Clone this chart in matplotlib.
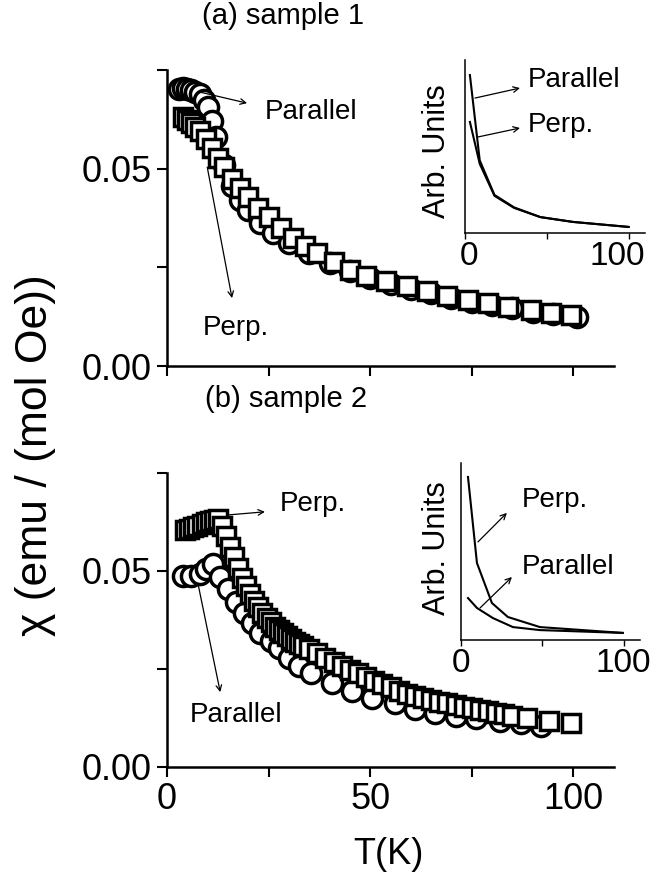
import matplotlib
matplotlib.use("Agg")
import matplotlib.pyplot as plt
import matplotlib.transforms as mtransforms
from matplotlib.ticker import FixedLocator

plt.rcParams['font.family'] = ['Liberation Sans', 'DejaVu Sans']

# ---------------- data: sample 1 ----------------
s1_par_T = [3, 4, 5, 6, 7, 8, 9, 10, 11, 12, 14, 16, 18, 20, 23, 26, 30, 35, 40, 45,
            50, 55, 60, 65, 70, 75, 80, 85, 90, 95, 101]
s1_par_chi = [0.0703, 0.0704, 0.0703, 0.0700, 0.0695, 0.0688, 0.0675, 0.0655, 0.0620, 0.0580,
              0.0510, 0.0455, 0.0420, 0.0395, 0.0362, 0.0338, 0.0312, 0.0286, 0.0262, 0.0240,
              0.0222, 0.0209, 0.0196, 0.0184, 0.0173, 0.0163, 0.0154, 0.0146, 0.0138, 0.0131, 0.0124]
s1_perp_T = [4, 5, 6, 7, 8, 9.5, 11, 12.5, 14, 16, 18, 20, 22.5, 25, 28, 31, 34, 37, 41, 45,
             49, 54, 59, 64, 69, 74, 79, 84, 89.5, 94.5, 99.5]
s1_perp_chi = [0.0630, 0.0624, 0.0616, 0.0606, 0.0595, 0.0575, 0.0552, 0.0527, 0.0503, 0.0475,
               0.0450, 0.0428, 0.0400, 0.0377, 0.0350, 0.0324, 0.0303, 0.0287, 0.0263, 0.0244,
               0.0228, 0.0215, 0.0202, 0.0190, 0.0178, 0.0168, 0.0159, 0.0150, 0.0142, 0.0135, 0.0129]

# ---------------- data: sample 2 ----------------
s2_par_T = [4, 6, 8, 9.7, 11.4, 13, 15, 17, 19, 21, 23, 25.5, 27.5, 30, 32.5, 35.5, 40.5,
            45.5, 50.5, 56, 61, 66, 71, 76, 82, 87, 92]
s2_par_chi = [0.0488, 0.0488, 0.0492, 0.0505, 0.0518, 0.0484, 0.0454, 0.0420, 0.0394, 0.0368,
              0.0343, 0.0321, 0.0304, 0.0278, 0.0257, 0.0240, 0.0215, 0.0195, 0.0177, 0.0162,
              0.0149, 0.0138, 0.0131, 0.0124, 0.0118, 0.0111, 0.0105]
s2_perp_T = [4.5, 5.5, 6.5, 7.5, 8.5, 9.5, 10.5, 11.5, 12.5, 13.5, 14.5, 15.5, 16.5, 17.5,
             18.5, 19.5, 20.5, 21.5, 22.5, 23.5, 24.5, 25.5, 26.5, 27.5, 28.5, 29.5, 30.5,
             31.5, 32.5, 33.5, 35, 37, 39, 41, 43, 45, 47, 49, 51, 53, 55, 57, 59, 61, 63,
             65, 67, 69, 71, 73, 75, 77, 79, 81, 83, 85, 88.5, 94, 99.5]
s2_perp_chi = [0.0605, 0.0608, 0.0612, 0.0616, 0.0620, 0.0624, 0.0628, 0.0631, 0.0632, 0.0615,
               0.0590, 0.0562, 0.0535, 0.0508, 0.0482, 0.0462, 0.0442, 0.0424, 0.0408, 0.0394,
               0.0381, 0.0369, 0.0358, 0.0350, 0.0341, 0.0334, 0.0327, 0.0320, 0.0314, 0.0308,
               0.0300, 0.0290, 0.0279, 0.0268, 0.0258, 0.0248, 0.0239, 0.0229, 0.0220, 0.0211,
               0.0203, 0.0194, 0.0187, 0.0181, 0.0176, 0.0171, 0.0166, 0.0162, 0.0158, 0.0154,
               0.0150, 0.0146, 0.0142, 0.0138, 0.0134, 0.0130, 0.0124, 0.0118, 0.0112]

# ---------------- inset data (arbitrary units) ----------------
in1_T = [3, 9, 18, 30, 46, 66, 100]
in1_par = [0.913, 0.420, 0.220, 0.148, 0.092, 0.064, 0.035]
in1_perp = [0.642, 0.400, 0.215, 0.145, 0.092, 0.064, 0.035]

in2_perp_T = [4.3, 9.8, 19.0, 28.8, 48.5, 99.4]
in2_perp = [0.921, 0.435, 0.209, 0.130, 0.073, 0.040]
in2_par_T = [4.3, 9.8, 19.6, 31.9, 48.5, 99.4]
in2_par = [0.237, 0.181, 0.124, 0.073, 0.056, 0.040]

titles = ["(a) sample 1", "(b) sample 2"]
ylabel = "χ (emu / (mol Oe))"
xlabel = "T(K)"

W, H = 655, 886
fig = plt.figure(figsize=(W / 100, H / 100), dpi=100)

def fx(px):
    return px / W

def fy(py):
    return 1 - py / H

TICK_FS = 26
ANN_FS = 20
MS = 14.5
MEW = 2.5

def style_main(ax, labels_x):
    ax.set_xlim(0, 110)
    ax.set_ylim(0, 0.075)
    for s in ['top', 'right']:
        ax.spines[s].set_visible(False)
    for s in ['left', 'bottom']:
        ax.spines[s].set_linewidth(1.8)
    ax.xaxis.set_major_locator(FixedLocator([0, 50, 100]))
    ax.xaxis.set_minor_locator(FixedLocator([25, 75]))
    ax.yaxis.set_major_locator(FixedLocator([0.0, 0.05]))
    ax.yaxis.set_minor_locator(FixedLocator([0.025, 0.075]))
    ax.set_yticklabels(["0.00", "0.05"])
    if labels_x:
        ax.set_xticklabels(["0", "50", "100"])
    else:
        ax.set_xticklabels([])
    ax.tick_params(which='both', direction='out', length=7, width=1.5,
                   labelsize=TICK_FS, pad=4)

def arrow(ax, tail, head, lw=0.9):
    ax.annotate("", xy=head, xytext=tail,
                arrowprops=dict(arrowstyle='->', lw=lw, color='black',
                                shrinkA=0, shrinkB=0, mutation_scale=10))

# ---------- top main axes ----------
ax1 = fig.add_axes([fx(167), fy(366), 447 / W, 296 / H])
ax1.plot(s1_par_T, s1_par_chi, 'o', ms=MS, mfc='white', mec='black', mew=MEW, zorder=2,
         clip_on=False)
ax1.plot(s1_perp_T, s1_perp_chi, 's', ms=MS - 1, mfc='white', mec='black', mew=MEW, zorder=3,
         clip_on=False)
style_main(ax1, False)
ax1.text(24.1, 0.0644, "Parallel", fontsize=ANN_FS, va='center', ha='left')
arrow(ax1, (8.1, 0.0694), (19.7, 0.0666))
ax1.text(8.9, 0.0096, "Perp.", fontsize=ANN_FS, va='center', ha='left')
arrow(ax1, (9.9, 0.0504), (16.0, 0.0172))

# ---------- bottom main axes ----------
ax2 = fig.add_axes([fx(167), fy(767), 447 / W, 294 / H])
ax2.plot(s2_par_T, s2_par_chi, 'o', ms=MS, mfc='white', mec='black', mew=MEW, zorder=2,
         clip_on=False)
ax2.plot(s2_perp_T, s2_perp_chi, 's', ms=MS - 1, mfc='white', mec='black', mew=MEW, zorder=3,
         clip_on=False)
style_main(ax2, True)
ax2.text(27.8, 0.0671, "Perp.", fontsize=ANN_FS, va='center', ha='left')
arrow(ax2, (15.0, 0.0643), (24.1, 0.0651))
ax2.text(5.7, 0.01327, "Parallel", fontsize=ANN_FS, va='center', ha='left')
arrow(ax2, (7.6, 0.0469), (13.1, 0.0191))

# ---------- insets ----------
def style_inset(ax, shifts):
    ax.set_xlim(0, 110)
    ax.set_ylim(0, 1)
    for s in ['top', 'right']:
        ax.spines[s].set_visible(False)
    for s in ['left', 'bottom']:
        ax.spines[s].set_linewidth(1.1)
    ax.set_yticks([])
    ax.xaxis.set_major_locator(FixedLocator([0, 100]))
    ax.xaxis.set_minor_locator(FixedLocator([50]))
    ax.set_xticklabels(["0", "100"])
    ax.tick_params(which='both', direction='out', length=4, width=1.0,
                   labelsize=24, pad=2)
    ax.patch.set_alpha(0)
    for lab, dx in zip(ax.get_xticklabels(), shifts):
        off = mtransforms.ScaledTranslation(dx / 100, 0, fig.dpi_scale_trans)
        lab.set_transform(lab.get_transform() + off)

in1 = fig.add_axes([fx(465), fy(233), 180 / W, 173 / H])
in1.plot(in1_T, in1_par, '-', color='black', lw=1.5)
in1.plot(in1_T, in1_perp, '-', color='black', lw=1.5)
style_inset(in1, [4, -11])
in1.text(-0.155, 0.474, "Arb. Units", transform=in1.transAxes, rotation=90,
         fontsize=22, ha='center', va='center')
in1.text(38.5, 0.884, "Parallel", fontsize=ANN_FS, va='center', ha='left')
arrow(in1, (6.1, 0.78), (33.6, 0.838))
in1.text(38.5, 0.624, "Perp.", fontsize=ANN_FS, va='center', ha='left')
arrow(in1, (7.9, 0.555), (33.6, 0.607))

in2 = fig.add_axes([fx(461), fy(640), 179 / W, 177 / H])
in2.plot(in2_perp_T, in2_perp, '-', color='black', lw=1.5)
in2.plot(in2_par_T, in2_par, '-', color='black', lw=1.5)
style_inset(in2, [0, 0])
in2.text(-0.134, 0.52, "Arb. Units", transform=in2.transAxes, rotation=90,
         fontsize=22, ha='center', va='center')
in2.text(37.4, 0.791, "Perp.", fontsize=ANN_FS, va='center', ha='left')
arrow(in2, (10.4, 0.554), (28.2, 0.718))
in2.text(37.4, 0.412, "Parallel", fontsize=ANN_FS, va='center', ha='left')
arrow(in2, (11.7, 0.181), (31.3, 0.356))

# ---------- titles & labels ----------
fig.text(fx(283), fy(16), titles[0], fontsize=21, ha='center', va='center')
fig.text(fx(286), fy(399), titles[1], fontsize=21, ha='center', va='center')
fig.text(fx(36), fy(455), ylabel, fontsize=32, rotation=90, ha='center', va='center')
fig.text(fx(388), fy(855), xlabel, fontsize=TICK_FS, ha='center', va='center')

fig.savefig("out.png", dpi=100)
